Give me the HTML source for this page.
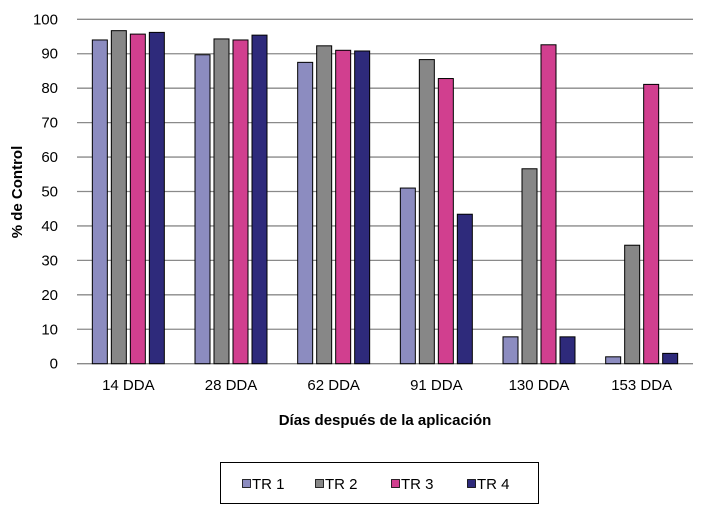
<!DOCTYPE html>
<html><head><meta charset="utf-8"><style>
body{margin:0;background:#fff;font-family:"Liberation Sans",Arial,sans-serif}
svg text{font-family:"Liberation Sans",Arial,sans-serif}
</style></head><body>
<svg id="chart" width="707" height="507" xmlns="http://www.w3.org/2000/svg">
<g id="grid"></g><g id="bars"></g><g id="xl"></g>
<text x="22" y="192" font-size="15" font-weight="bold" text-anchor="middle" transform="rotate(-90 22 192)">% de Control</text>
<text x="385" y="425" font-size="15" font-weight="bold" text-anchor="middle">Días después de la aplicación</text>
<g>
<rect x="220.5" y="462.5" width="318" height="41" fill="#fff" stroke="#000"/>
<g id="legend"></g>
</g>
</svg>
<script>
const categories=["14 DDA","28 DDA","62 DDA","91 DDA","130 DDA","153 DDA"];
const seriesNames=["TR 1","TR 2","TR 3","TR 4"];
const tr1=[94,89.7,87.5,51,7.8,2];
const tr2=[96.7,94.3,92.3,88.3,56.6,34.4];
const tr3=[95.7,94,91,82.8,92.6,81.1];
const tr4=[96.2,95.4,90.8,43.4,7.8,3];
const yTicks=[0,10,20,30,40,50,60,70,80,90,100];
const colors=["#8c8cc0","#878787","#d13f8f","#2e2a7b"];
const series=[tr1,tr2,tr3,tr4];
const NS="http://www.w3.org/2000/svg";
const x0=77,x1=693,y0=363.7,yTop=19.3;
const y=v=>y0-(v/100)*(y0-yTop);
const gw=(x1-x0)/categories.length;
const mk=(t,a,p)=>{const e=document.createElementNS(NS,t);for(const k in a)e.setAttribute(k,a[k]);p.appendChild(e);return e;};
const G=document.getElementById('grid');
yTicks.forEach(t=>{
  const l=mk('line',{x1:x0,x2:x1,y1:y(t),y2:y(t),stroke:'#8a8a8a','stroke-width':1.3},G);
  
  
  const tx=mk('text',{x:58,y:y(t)+5,'font-size':15,'text-anchor':'end'},G);
  tx.textContent=t;
  
  
});
const B=document.getElementById('bars'),XL=document.getElementById('xl');
const bw=15,step=19;
categories.forEach((c,i)=>{
  const cx=x0+gw*(i+0.5);
  series.forEach((s,j)=>{
    const bx=cx-2*step+j*step+2;
    const r=mk('rect',{x:bx,y:y(s[i]),width:bw,height:y0-y(s[i]),fill:colors[j],stroke:'#000','stroke-width':1},B);
    
    
  });
  const t=mk('text',{x:cx,y:390,'font-size':15,'text-anchor':'middle'},XL);
  t.textContent=c;
  
  
});
const L=document.getElementById('legend');
const lx=[242,315,391,467];
seriesNames.forEach((n,j)=>{
  const r=mk('rect',{x:lx[j]+0.5,y:479.5,width:8,height:8,fill:colors[j],stroke:'#000','stroke-width':0.8},L);
  
  
  const t=mk('text',{x:lx[j]+10,y:489,'font-size':15},L);
  t.textContent=n;
  
  
});
</script>
</body></html>
